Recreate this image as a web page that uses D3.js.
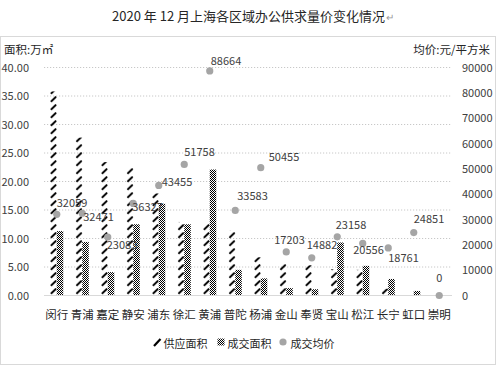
<!DOCTYPE html>
<html><head><meta charset="utf-8">
<script src="https://cdn.jsdelivr.net/npm/d3@7"></script>
<style>
html,body{margin:0;padding:0;background:#fff;}
svg{display:block;font-family:"Noto Sans CJK SC","Noto Sans",sans-serif;}
</style></head>
<body><svg id="c" width="499" height="367"></svg>
<script>
// ---- data ----
const categories = ["闵行","青浦","嘉定","静安","浦东","徐汇","黄浦","普陀","杨浦","金山","奉贤","宝山","松江","长宁","虹口","崇明"];
const supplyArea = [35.8, 27.7, 23.4, 22.5, 17.9, 12.9, 12.7, 11.4, 6.7, 5.7, 5.3, 4.6, 4.5, 1.2, 0, 0];
const dealArea   = [11.3, 9.4, 4.1, 12.5, 16.1, 12.5, 22.1, 4.5, 3.0, 1.3, 1.1, 9.3, 5.2, 2.9, 0.8, 0];
const avgPrice   = [32059, 32471, 23083, 36327, 43455, 51758, 88664, 33583, 50455, 17203, 14882, 23158, 20556, 18761, 24851, 0];
const leftTicks  = [0, 5, 10, 15, 20, 25, 30, 35, 40];
const rightTicks = [0, 10000, 20000, 30000, 40000, 50000, 60000, 70000, 80000, 90000];
const seriesNames = ["供应面积","成交面积","成交均价"];
const titleText = "2020 年 12 月上海各区域办公供求量价变化情况";
const leftTitle = "面积:万㎡";
const rightTitle = "均价:元/平方米";

// ---- layout (label offsets relative to each point) ----
const labelDx = [0, 1, -1, -1, 3, 0, 1, 2, 8, -12, -5, -1.5, -9.5, 0, 0, -3];
const labelDy = [-7.3, 7.8, 12, 7.5, 0.6, -8.4, -6, -10.4, -7, -8, -8.5, -7.5, 10.6, 14, -10, -14];

const svg = d3.select("#c");
const X0 = 44, X1 = 452, YB = 295.5, YT = 67.5;

const x = d3.scaleBand().domain(categories).range([X0, X1]).padding(0);
const yL = d3.scaleLinear().domain([0, 40]).range([YB, YT]);
const yR = d3.scaleLinear().domain([0, 90000]).range([YB, YT]);
const barW = 6.5;

// patterns
const defs = svg.append("defs");
const hp = defs.append("pattern").attr("id","hatch").attr("patternUnits","userSpaceOnUse")
  .attr("x", X0 + x.bandwidth()/2 - barW).attr("y", 0)
  .attr("width", x.bandwidth()).attr("height", 8);
hp.append("line").attr("x1",0.6).attr("y1",5.8).attr("x2",6).attr("y2",0.6)
  .attr("stroke","#000").attr("stroke-width",2);
const cp = defs.append("pattern").attr("id","check").attr("patternUnits","userSpaceOnUse")
  .attr("width",2).attr("height",2);
cp.append("rect").attr("width",2).attr("height",2).attr("fill","#fff");
cp.append("rect").attr("x",0).attr("y",0).attr("width",1).attr("height",1).attr("fill","#000");
cp.append("rect").attr("x",1).attr("y",1).attr("width",1).attr("height",1).attr("fill","#000");

// border
svg.append("rect").attr("x",0.5).attr("y",36.5).attr("width",495).attr("height",328)
  .attr("fill","none").attr("stroke","#d9d9d9");

// title
const t = svg.append("text").attr("x",248.5).attr("y",20.5).attr("text-anchor","middle")
  .attr("font-size",13).attr("fill","#262626").text(titleText);
const tb = t.node().getBBox();
svg.append("text").attr("x",tb.x+tb.width+1).attr("y",20.5).attr("font-size",10)
  .attr("fill","#9a9a9a").text("↵");

// axis titles
svg.append("text").attr("x",4).attr("y",53.5).attr("font-size",11.5).attr("fill","#262626").text(leftTitle);
svg.append("text").attr("x",490).attr("y",53.5).attr("text-anchor","end").attr("font-size",11.5).attr("fill","#262626").text(rightTitle);

// gridlines
svg.append("g").selectAll("line").data(leftTicks.filter(d=>d>0)).join("line")
  .attr("x1",X0).attr("x2",X1).attr("y1",d=>yL(d)).attr("y2",d=>yL(d))
  .attr("stroke","#c8c8c8").attr("stroke-dasharray","1.2,1.8").attr("stroke-width",1);

// left axis
const gl = svg.append("g").attr("transform","translate(29,0)")
  .call(d3.axisLeft(yL).tickValues(leftTicks).tickFormat(d3.format(".2f")).tickSize(0).tickPadding(0));
gl.select(".domain").remove();
gl.selectAll("text").attr("font-size",11).attr("fill","#404040").attr("font-family","Noto Sans CJK SC");

// right axis
const gr = svg.append("g").attr("transform","translate(462,0)")
  .call(d3.axisRight(yR).tickValues(rightTicks).tickFormat(d3.format("d")).tickSize(0).tickPadding(0));
gr.select(".domain").remove();
gr.selectAll("text").attr("font-size",11).attr("fill","#404040").attr("font-family","Noto Sans CJK SC");

// bars
svg.append("g").selectAll("rect").data(categories).join("rect")
  .attr("x",d=>x(d)+x.bandwidth()/2-barW).attr("width",barW)
  .attr("y",(d,i)=>yL(supplyArea[i])).attr("height",(d,i)=>YB-yL(supplyArea[i]))
  .attr("fill","url(#hatch)");
svg.append("g").selectAll("rect").data(categories).join("rect")
  .attr("x",d=>x(d)+x.bandwidth()/2).attr("width",barW)
  .attr("y",(d,i)=>yL(dealArea[i])).attr("height",(d,i)=>YB-yL(dealArea[i]))
  .attr("fill","url(#check)");

// x axis line
svg.append("line").attr("x1",X0).attr("x2",X1).attr("y1",YB).attr("y2",YB)
  .attr("stroke","#d9d9d9").attr("stroke-width",1);

// category labels
const gx = svg.append("g").attr("transform",`translate(0,${YB})`)
  .call(d3.axisBottom(x).tickSize(0).tickPadding(0));
gx.select(".domain").remove();
gx.selectAll("text").attr("dy",null).attr("y",23).attr("font-size",11.5).attr("fill","#262626")
  .attr("font-family","Noto Sans CJK SC");

// price dots
svg.append("g").selectAll("circle").data(categories).join("circle")
  .attr("cx",d=>x(d)+x.bandwidth()/2).attr("cy",(d,i)=>yR(avgPrice[i])).attr("r",3.6)
  .attr("fill","#a5a5a5");
svg.append("g").selectAll("text").data(categories).join("text")
  .attr("x",(d,i)=>x(d)+x.bandwidth()/2+labelDx[i]).attr("y",(d,i)=>yR(avgPrice[i])+labelDy[i])
  .attr("font-size",11).attr("fill","#404040").text((d,i)=>avgPrice[i]);

// legend
const lg = svg.append("g");
const LY = 346;
lg.append("line").attr("x1",154).attr("y1",LY).attr("x2",160.5).attr("y2",LY-7)
  .attr("stroke","#000").attr("stroke-width",2.2);
const t1 = lg.append("text").attr("x",163.5).attr("y",LY+1.5).attr("font-size",11).attr("fill","#262626").text(seriesNames[0]);
let xx = 163.5 + t1.node().getComputedTextLength() + 10;
lg.append("rect").attr("x",xx).attr("y",LY-7.5).attr("width",7).attr("height",7).attr("fill","url(#check)");
const t2 = lg.append("text").attr("x",xx+10).attr("y",LY+1.5).attr("font-size",11).attr("fill","#262626").text(seriesNames[1]);
xx = xx + 10 + t2.node().getComputedTextLength() + 11.5;
lg.append("circle").attr("cx",xx).attr("cy",LY-4).attr("r",3.6).attr("fill","#a5a5a5");
lg.append("text").attr("x",xx+7.5).attr("y",LY+1.5).attr("font-size",11).attr("fill","#262626").text(seriesNames[2]);
</script></body></html>
